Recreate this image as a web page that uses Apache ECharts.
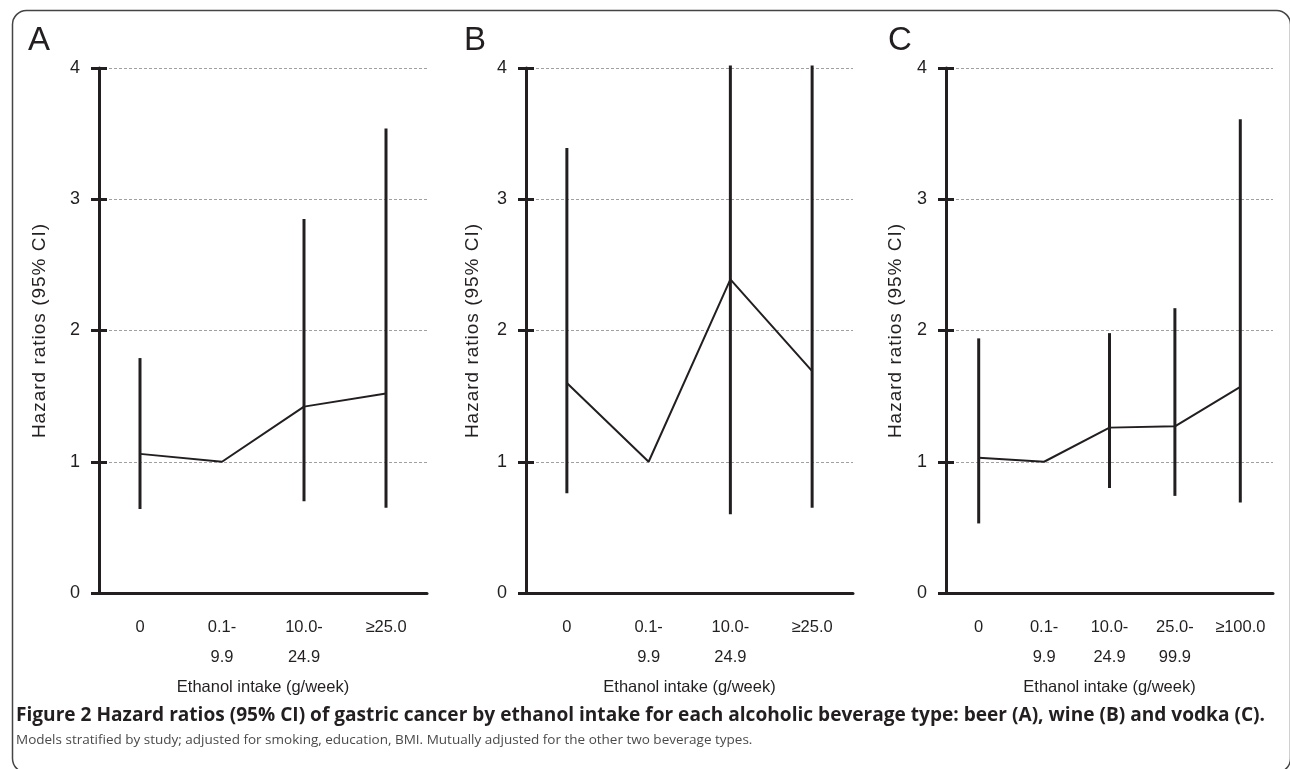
<!DOCTYPE html>
<html>
<head>
<meta charset="utf-8">
<script src="https://cdn.jsdelivr.net/npm/echarts@6/dist/echarts.min.js"></script>
<style>
html,body{margin:0;padding:0;background:#fff;}
#chart{width:1290px;height:769px;}
</style>
</head>
<body>
<div id="chart"></div>
<script>
// ---- data ----
var categoriesAB = ['0', '0.1-\n9.9', '10.0-\n24.9', '\u226525.0'];
var categoriesC = ['0', '0.1-\n9.9', '10.0-\n24.9', '25.0-\n99.9', '\u2265100.0'];

var beerHR   = [1.06, 1.00, 1.42, 1.52];
var beerLow  = [0.64, null, 0.70, 0.65];
var beerHigh = [1.79, null, 2.85, 3.54];

var wineHR   = [1.60, 1.00, 2.39, 1.69];
var wineLow  = [0.76, null, 0.60, 0.65];
var wineHigh = [3.39, null, 4.02, 4.02];

var vodkaHR   = [1.03, 1.00, 1.26, 1.27, 1.57];
var vodkaLow  = [0.53, null, 0.80, 0.74, 0.69];
var vodkaHigh = [1.94, null, 1.98, 2.17, 3.61];

var panelLabels = ['A', 'B', 'C'];
var yAxisName = 'Hazard ratios (95% CI)';
var xAxisName = 'Ethanol intake (g/week)';
var captionTitle = 'Figure 2 Hazard ratios (95% CI) of gastric cancer by ethanol intake for each alcoholic beverage type: beer (A), wine (B) and vodka (C).';
var captionNote = 'Models stratified by study; adjusted for smoking, education, BMI. Mutually adjusted for the other two beverage types.';

// the vertical axis title in the original is slightly tracked out
(function () {
  var proto = CanvasRenderingContext2D.prototype;
  var orig = proto.fillText;
  proto.fillText = function (t, x, y, w) {
    if ('letterSpacing' in this) {
      this.letterSpacing = /Arimo/.test(this.font) ? '1px' : '0px';
    }
    return w === undefined ? orig.call(this, t, x, y) : orig.call(this, t, x, y, w);
  };
})();

// ---- layout ----
var INK = '#231f20';
var FONT = '"Liberation Sans", Arial, Helvetica, sans-serif';
var FONT_Y = '"Liberation Sans", Arimo, sans-serif';
var panels = [
  {cats: categoriesAB, hr: beerHR, lo: beerLow, hi: beerHigh, left: 99, width: 328, nameGap: 50, labelX: 28},
  {cats: categoriesAB, hr: wineHR, lo: wineLow, hi: wineHigh, left: 526, width: 327, nameGap: 44, labelX: 464},
  {cats: categoriesC, hr: vodkaHR, lo: vodkaLow, hi: vodkaHigh, left: 946, width: 327, nameGap: 41, labelX: 888}
];
var GTOP = 68, GHEIGHT = 525;

var grids = [], xAxes = [], yAxes = [], series = [], graphics = [];

panels.forEach(function (p, i) {
  grids.push({left: p.left, top: GTOP, width: p.width, height: GHEIGHT});
  xAxes.push({
    type: 'category', gridIndex: i, data: p.cats, boundaryGap: true,
    name: xAxisName, nameLocation: 'middle', nameGap: 86,
    nameTextStyle: {color: INK, fontSize: 16.5, fontFamily: FONT},
    axisLine: {lineStyle: {color: INK, width: 3}},
    axisTick: {inside: true, length: 8, lineStyle: {color: INK, width: 3}},
    axisLabel: {color: INK, fontSize: 16.5, fontFamily: FONT, lineHeight: 30, margin: 19, interval: 0},
    splitLine: {show: false}
  });
  yAxes.push({
    type: 'value', gridIndex: i, min: 0, max: 4, interval: 1,
    name: yAxisName, nameLocation: 'middle', nameGap: p.nameGap,
    nameTextStyle: {color: INK, fontSize: 19, fontFamily: FONT_Y},
    axisLine: {show: true, lineStyle: {color: INK, width: 3}},
    axisTick: {show: true, length: 8, lineStyle: {color: INK, width: 3}},
    axisLabel: {color: INK, fontSize: 18, fontFamily: FONT, margin: 19},
    splitLine: {show: true, lineStyle: {color: '#a0a0a0', type: [3, 2], width: 1}}
  });
  yAxes.push({
    type: 'value', gridIndex: i, min: 0, max: 4, interval: 1, position: 'left',
    axisLine: {show: false},
    axisTick: {show: true, inside: true, length: 8, lineStyle: {color: INK, width: 3}},
    axisLabel: {show: false},
    splitLine: {show: false}
  });

  series.push({
    type: 'line', xAxisIndex: i, yAxisIndex: i * 2,
    data: p.hr, symbol: 'none', z: 3,
    lineStyle: {color: INK, width: 2}
  });

  var ciData = [];
  p.lo.forEach(function (v, k) {
    if (v !== null && p.hi[k] !== null) ciData.push([k, v, p.hi[k]]);
  });
  series.push({
    type: 'custom', xAxisIndex: i, yAxisIndex: i * 2, z: 4,
    data: ciData,
    encode: {x: 0, y: [1, 2]},
    renderItem: function (params, api) {
      var a = api.coord([api.value(0), api.value(1)]);
      var b = api.coord([api.value(0), api.value(2)]);
      return {
        type: 'line',
        shape: {x1: a[0], y1: a[1], x2: b[0], y2: b[1]},
        style: {stroke: INK, lineWidth: 3}
      };
    }
  });

  graphics.push({
    type: 'text', left: p.labelX, top: 24,
    style: {text: panelLabels[i], fill: INK, font: '33px ' + FONT}
  });
});

graphics.push({
  type: 'rect', left: 10, top: 8, z: -1,
  shape: {width: 1278, height: 762, r: 14},
  style: {fill: 'none', stroke: '#444', lineWidth: 1.5}
});
graphics.push({
  type: 'text', left: 16, top: 706,
  style: {text: captionTitle, fill: INK, font: 'bold 19.1px "Open Sans", sans-serif'}
});
graphics.push({
  type: 'text', left: 16, top: 733,
  style: {text: captionNote, fill: '#4a4a4a', font: '13.5px "Open Sans", sans-serif'}
});

var chart = echarts.init(document.getElementById('chart'), null, {renderer: 'canvas'});
chart.setOption({
  backgroundColor: '#fff',
  animation: false,
  grid: grids,
  xAxis: xAxes,
  yAxis: yAxes,
  series: series,
  graphic: graphics
});
</script>
</body>
</html>
